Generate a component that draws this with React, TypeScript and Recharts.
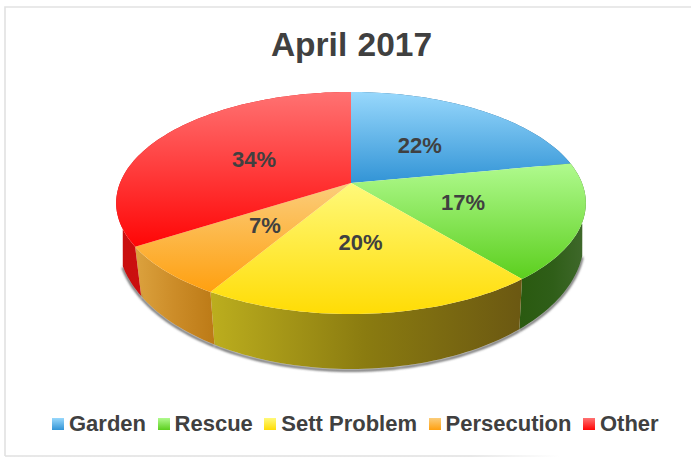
import React from 'react';
import { PieChart, Pie, Legend } from 'recharts';

const categories = ['Garden', 'Rescue', 'Sett Problem', 'Persecution', 'Other'];
const shares = [22, 17, 19.6, 7.4, 34];
const title = 'April 2017';
const topLight = ['#98d8fc', '#b0fa8e', '#fff97a', '#fbcd7b', '#ff7272'];
const topDark = ['#3294d6', '#5ccf1e', '#ffdc05', '#ffa010', '#ff0606'];
const wallStops = [
  ['#1e6090', '#1e6090', '#1e6090'],
  ['#2a5a10', '#2f5e18', '#40692c'],
  ['#bcae1e', '#8a7b10', '#6b5812'],
  ['#dca23e', '#cc8c28', '#bc7a16'],
  ['#c80f0f', '#d81010', '#e81010'],
];
const rows = categories.map((name, i) => ({ name, value: shares[i] }));

const W = 691;
const H = 457;
const TILT = 0.465;
const PERSP = 0.18;
const RIM_MID = 20;
const BASE_MID = 57;
const BASE_A = 233;
const BASE_B = 129;
const RAD = Math.PI / 180;

function project(R: number, deg: number, r = 1) {
  const t = (90 - deg) * RAD;
  const u = Math.sin(t) * r;
  const v = Math.cos(t) * r;
  const w = 1 + PERSP * v;
  return { x: (R * u) / w, y: (-R * TILT * v) / w };
}
const onTop = (cx: number, cy: number, p: { x: number; y: number }) => [cx + p.x, cy + p.y];
const onBase = (cx: number, cy: number, p: { x: number; y: number }) => {
  const bx = p.x * (p.x < 0 ? 0.972 : 0.985);
  const X = Math.min(1, Math.abs(bx) / BASE_A);
  const Y = Math.sqrt(1 - X * X);
  const side = p.y > RIM_MID ? 1 : -1;
  return [cx + bx, cy + BASE_MID + side * BASE_B * Y];
};

function arcPoints(s: number, e: number) {
  const n = Math.max(2, Math.ceil(Math.abs(e - s) / 1.5));
  return Array.from({ length: n + 1 }, (_, i) => s + ((e - s) * i) / n);
}
const d = (pts: number[][]) => pts.map((p, i) => `${i ? 'L' : 'M'}${p[0].toFixed(2)} ${p[1].toFixed(2)}`).join(' ');

function Slice(props: any) {
  const { cx, cy, outerRadius: R, startAngle, endAngle, index } = props;
  const angles = arcPoints(startAngle, endAngle);
  const rim = angles.map((a) => project(R, a));
  const top = rim.map((p) => onTop(cx, cy, p));
  const base = rim.map((p) => onBase(cx, cy, p));
  const front = rim.filter((p) => p.y > RIM_MID).map((p) => onBase(cx, cy, p));
  return (
    <g>
      {front.length > 1 && (
        <path d={d(front.map((p) => [p[0], p[1] + 1.5]))} fill="none" stroke="#6a6a6a" strokeWidth={2.5} filter="url(#rimBlur)" />
      )}
      <path d={d([...top, ...[...base].reverse()]) + ' Z'} fill={`url(#wall${index})`} />
      <path d={d([[cx, cy], ...top]) + ' Z'} fill={`url(#top${index})`} />
    </g>
  );
}

function sliceLabel(props: any) {
  const { cx, cy, outerRadius, midAngle, percent } = props;
  const [x, y] = onTop(cx, cy, project(outerRadius, midAngle, 0.5));
  return (
    <text x={x} y={y + 1} textAnchor="middle" dominantBaseline="central" fill="#404040"
      style={{ fontFamily: '"Liberation Sans"', fontWeight: 700, fontSize: 22 }}>
      {`${Math.round(percent * 100)}%`}
    </text>
  );
}

function LegendRow(props: any) {
  const items = props.payload || [];
  return (
    <div style={{ display: 'flex', alignItems: 'center', fontFamily: '"Liberation Sans"', fontWeight: 700, fontSize: 22, color: '#404040', whiteSpace: 'nowrap', lineHeight: '26px' }}>
      {items.map((it: any, i: number) => (
        <span key={it.value} style={{ display: 'flex', alignItems: 'center', marginRight: 11.5 }}>
          <span style={{ width: 12, height: 12, marginRight: 5, background: `linear-gradient(${topLight[i]}, ${topDark[i]})` }} />
          {it.value}
        </span>
      ))}
    </div>
  );
}

export default function App() {
  return (
    <div style={{ position: 'absolute', left: 0, top: 0, width: W, height: H, background: '#fff', overflow: 'hidden' }}>
      <PieChart width={W} height={H} margin={{ top: 0, right: 0, bottom: 0, left: 0 }}>
        <defs>
          <filter id="rimBlur" x="-10%" y="-10%" width="120%" height="120%">
            <feGaussianBlur stdDeviation="1" />
          </filter>
          <linearGradient id="frameFade" gradientUnits="userSpaceOnUse" x1="470" y1="0" x2="560" y2="0">
            <stop offset="0" stopColor="#e0e0e0" />
            <stop offset="1" stopColor="#ffffff" />
          </linearGradient>
          {categories.map((c, i) => (
            <linearGradient key={c} id={`top${i}`} x1="0" y1="0" x2="0" y2="1">
              <stop offset="0" stopColor={topLight[i]} />
              <stop offset="1" stopColor={topDark[i]} />
            </linearGradient>
          ))}
          {categories.map((c, i) => (
            <linearGradient key={c} id={`wall${i}`} x1="0" y1="0" x2="1" y2="0">
              <stop offset="0" stopColor={wallStops[i][0]} />
              <stop offset="0.5" stopColor={wallStops[i][1]} />
              <stop offset="1" stopColor={wallStops[i][2]} />
            </linearGradient>
          ))}
        </defs>
        <path d={`M${W} 7 H5 V456`} fill="none" stroke="#e2e2e2" strokeWidth={1.6} />
        <path d="M5 456 H560" fill="none" stroke="url(#frameFade)" strokeWidth={1.6} />
        <text x={351.5} y={56} textAnchor="middle" fill="#404040" wordSpacing={1}
          style={{ fontFamily: '"Liberation Sans"', fontWeight: 700, fontSize: 33.5 }}>{title}</text>
        <Pie
          data={rows}
          dataKey="value"
          nameKey="name"
          cx={351}
          cy={183}
          outerRadius={231}
          startAngle={90}
          endAngle={-270}
          stroke="none"
          shape={Slice}
          label={sliceLabel}
          labelLine={false}
          isAnimationActive={false}
        />
        <Legend content={LegendRow} itemSorter={null} wrapperStyle={{ position: 'absolute', left: 52, top: 411, width: 630, bottom: 'auto' }} />
      </PieChart>
    </div>
  );
}
